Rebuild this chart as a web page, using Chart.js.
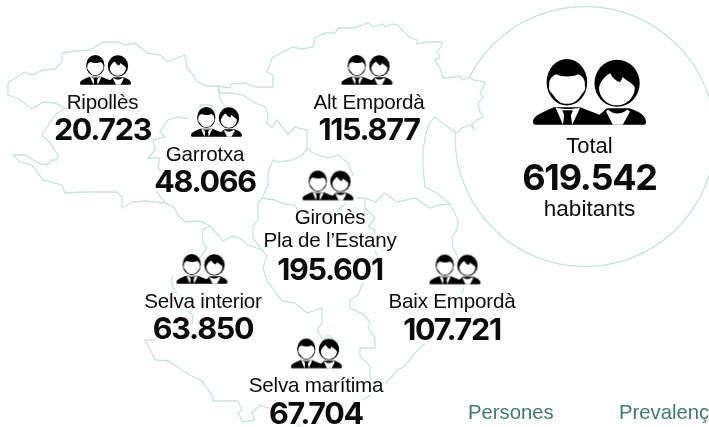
<!DOCTYPE html>
<html>

<head>
    <title>Habitants per comarca</title>
    <meta charset="utf-8" />
    <style>
        html, body { margin: 0; padding: 0; background: #fff; overflow: hidden; }
        canvas { display: block; }
    </style>
</head>

<body>
    <canvas id="myChart" width="709" height="427"></canvas>

    <script src="https://cdn.jsdelivr.net/npm/chart.js"></script>
    <script type="text/javascript">
        // values
        const comarques = ['Ripollès', 'Garrotxa', 'Alt Empordà', 'Gironès\nPla de l’Estany', 'Selva interior', 'Baix Empordà', 'Selva marítima'];
        const habitants = [20723, 48066, 115877, 195601, 63850, 107721, 67704];
        const totalHabitants = 619542;
        const tabs = ['Persones', 'Prevalenç'];

        // where each comarca sits on the map (page scale, y going down)
        const iconX = [105.5, 216.5, 367, 328, 202, 455, 316.5];
        const iconY = [70, 122, 70, 185.5, 269, 269.5, 353.5];
        const textX = [102.5, 205, 369, 330, 203, 452, 316];
        const totalPoint = [589.5, 92];
        const circlePoint = [585, 136.5];

        // map borders
        const northCoast = [[8,83],[25,72],[32,75],[43,70],[55,69],[62,62],[62,53],[75,51],[90,50],[103,42],[118,42],[125,45],[135,43],[147,53],[160,55],[168,62],[175,59],[185,55],[187,68],[193,75],[197,82],[207,86],[218,86],[230,88],[231,84],[245,83],[255,87],[273,87],[273,75],[267,72],[272,58],[277,55],[293,47],[302,49],[313,47],[315,38],[325,33],[335,33],[338,28],[353,28],[368,23],[373,27],[383,24],[385,27],[392,24],[398,25],[410,38],[417,40],[417,44],[427,42],[442,42],[441,47],[437,52],[440,57],[435,60],[440,68],[443,78],[455,77],[460,76],[462,80],[470,77],[473,80],[485,82],[483,88],[480,93],[483,98],[478,103],[480,112],[483,117],[477,120],[472,124],[474,129],[470,125],[462,128],[458,132],[455,132],[445,125],[435,117],[430,122],[426,133],[423,150],[423,167],[425,187],[437,193],[443,198],[450,204],[458,220],[457,230],[452,237],[453,247],[457,255],[465,285],[458,303],[448,326],[422,346],[415,353],[405,366],[398,370],[383,386],[363,400],[350,410],[335,415],[313,422],[297,426]];
        const capeMask = [[443,78],[455,77],[460,76],[462,80],[470,77],[473,80],[485,82],[483,88],[480,93],[483,98],[478,103],[480,112],[483,117],[477,120],[472,124],[474,129],[470,125],[462,128],[458,132],[455,132],[443,78]];
        const westEdge = [[8,83],[8,95],[17,98],[32,109],[43,102],[55,103],[65,108],[55,115],[42,135],[50,143],[58,155],[57,160],[52,160],[47,165],[38,163],[25,155],[13,155],[20,162],[32,165],[43,180],[62,185],[65,193],[85,192],[117,192],[122,197],[122,208],[133,202],[145,201],[165,203],[175,208],[177,214],[185,222],[200,221],[210,226],[223,241],[232,236],[240,238],[248,245],[262,250],[267,256],[263,268],[267,281],[282,301],[295,303],[307,313],[322,308],[322,323],[317,330],[323,340],[328,335],[338,342],[335,355],[342,368]];
        const selvaEdge = [[210,226],[202,230],[203,243],[207,248],[202,255],[190,268],[177,275],[172,276],[172,285],[185,310],[193,315],[192,325],[168,339],[145,340],[153,355],[155,360],[168,361],[190,375],[202,381],[212,395],[213,401],[238,401],[242,410],[238,413],[243,422],[255,420],[252,413],[260,405],[267,408],[272,405],[280,400]];
        const garrotxaNorth = [[218,86],[220,93],[230,93],[243,95],[255,103],[265,107],[268,115],[267,123],[272,128],[277,120],[288,135],[295,127],[307,130],[307,148],[313,153],[328,158],[338,155],[348,163],[353,175],[350,182],[355,190],[353,198],[365,198],[375,202],[385,193],[397,202],[415,198],[430,208],[440,205],[450,204]];
        const garrotxaStub = [[218,86],[220,98],[225,107]];
        const garrotxaWest = [[212,112],[212,105],[200,105],[200,117],[185,118],[178,117],[168,120],[160,132],[165,137],[153,140],[155,150],[148,158],[160,158],[158,168],[162,173],[157,192],[165,203]];
        const gironesWest = [[308,148],[302,155],[292,160],[278,162],[273,160],[268,172],[268,185],[262,198],[258,203],[258,220],[253,226],[253,238],[262,250]];
        const estanyEdge = [[262,198],[275,200],[284,204],[295,205],[300,215],[312,226],[322,222],[335,212],[353,198]];
        const baixWest = [[365,198],[365,208],[375,218],[368,227],[375,230],[373,247],[377,255],[372,272],[362,285],[358,295],[350,300],[350,308],[363,314],[370,322],[368,328],[375,338],[375,348],[360,348],[360,356],[370,366],[370,378],[383,386]];

        const lineColor = '#c6e6db';
        const textColor = '#0c0c0c';
        const tabColor = '#41796c';

        function toPoints(list) {
            return list.map((p) => ({ x: p[0], y: p[1] }));
        }

        function dotted(value) {
            return String(value).replace(/\B(?=(\d{3})+$)/g, '.');
        }

        // the two people glyph, drawn in a 340x198 box then scaled
        function peopleParts(ctx) {
            // man
            ctx.beginPath();
            ctx.ellipse(102, 70, 61, 70, 0, 0, Math.PI * 2);
            ctx.fill();
            ctx.beginPath();
            ctx.moveTo(0, 188);
            ctx.bezierCurveTo(0, 170, 30, 160, 62, 145);
            ctx.lineTo(142, 145);
            ctx.lineTo(200, 168);
            ctx.lineTo(222, 148);
            ctx.lineTo(290, 148);
            ctx.bezierCurveTo(320, 158, 340, 170, 340, 190);
            ctx.quadraticCurveTo(340, 198, 330, 198);
            ctx.lineTo(8, 198);
            ctx.quadraticCurveTo(0, 198, 0, 188);
            ctx.fill();
            // woman
            ctx.beginPath();
            ctx.ellipse(253, 73, 68, 71, 0, 0, Math.PI * 2);
            ctx.fill();
        }

        function drawPeople(canvas, scale, pad) {
            const ctx = canvas.getContext('2d');
            ctx.save();
            ctx.translate(pad, pad);
            ctx.scale(scale, scale);

            // white edge so the map lines stop short of the glyph
            ctx.fillStyle = '#fff';
            ctx.strokeStyle = '#fff';
            ctx.lineWidth = pad * 1.6 / scale;
            peopleParts(ctx);
            ctx.beginPath();
            ctx.rect(0, 60, 340, 138);
            ctx.stroke();
            ctx.fill();

            ctx.fillStyle = '#000';
            peopleParts(ctx);

            // man's face
            ctx.fillStyle = '#fff';
            ctx.beginPath();
            ctx.moveTo(49, 80);
            ctx.bezierCurveTo(47, 62, 56, 52, 70, 46);
            ctx.bezierCurveTo(90, 56, 120, 54, 136, 46);
            ctx.bezierCurveTo(150, 52, 158, 64, 156, 80);
            ctx.bezierCurveTo(161, 95, 149, 101, 144, 110);
            ctx.bezierCurveTo(132, 130, 116, 135, 102, 135);
            ctx.bezierCurveTo(88, 135, 74, 130, 62, 110);
            ctx.bezierCurveTo(56, 101, 44, 95, 49, 80);
            ctx.fill();

            // shirt and tie
            ctx.beginPath();
            ctx.moveTo(68, 146);
            ctx.lineTo(90, 198);
            ctx.lineTo(118, 198);
            ctx.lineTo(142, 146);
            ctx.bezierCurveTo(118, 152, 90, 152, 68, 146);
            ctx.fill();
            ctx.fillStyle = '#000';
            ctx.beginPath();
            ctx.moveTo(88, 154);
            ctx.lineTo(120, 154);
            ctx.lineTo(114, 170);
            ctx.lineTo(118, 198);
            ctx.lineTo(90, 198);
            ctx.lineTo(94, 170);
            ctx.closePath();
            ctx.fill();

            // woman's face with fringe
            ctx.fillStyle = '#fff';
            ctx.beginPath();
            ctx.moveTo(199, 84);
            ctx.bezierCurveTo(204, 66, 218, 50, 232, 43);
            ctx.bezierCurveTo(238, 56, 248, 66, 262, 70);
            ctx.bezierCurveTo(266, 62, 268, 58, 270, 54);
            ctx.bezierCurveTo(282, 66, 296, 70, 306, 84);
            ctx.bezierCurveTo(308, 112, 284, 139, 252, 139);
            ctx.bezierCurveTo(220, 139, 197, 112, 199, 84);
            ctx.fill();

            // collar
            ctx.beginPath();
            ctx.moveTo(226, 153);
            ctx.bezierCurveTo(240, 168, 268, 168, 284, 152);
            ctx.lineTo(292, 158);
            ctx.lineTo(270, 198);
            ctx.lineTo(240, 198);
            ctx.lineTo(220, 158);
            ctx.closePath();
            ctx.fill();
            ctx.restore();
        }

        function peopleGlyph(width) {
            const pad = 4;
            const scale = width / 340;
            const canvas = document.createElement('canvas');
            canvas.width = Math.ceil(width + pad * 2);
            canvas.height = Math.ceil(198 * scale + pad * 2);
            drawPeople(canvas, scale, pad);
            return canvas;
        }

        function mapLine(list) {
            return {
                data: toPoints(list),
                showLine: true,
                borderColor: lineColor,
                borderWidth: 1.3,
                pointRadius: 0,
                tension: 0,
                fill: false
            };
        }

        // all the wording goes on here, white halo first so lines stop before the letters
        const labelPlugin = {
            id: 'labelPlugin',
            afterDatasetsDraw(chart) {
                const { ctx, scales } = chart;
                const items = [];
                comarques.forEach((name, i) => {
                    const x = scales.x.getPixelForValue(textX[i]);
                    const y = scales.y.getPixelForValue(iconY[i]);
                    const lines = name.split('\n');
                    lines.forEach((line, n) => {
                        items.push({ text: line, x: x, y: y + 38.5 + n * 23, font: '20.6px "Liberation Sans"', spacing: '-0.2px' });
                    });
                    items.push({ text: dotted(habitants[i]), x: x, y: y + 70 + (lines.length - 1) * 24.5, font: '700 30.5px Inter', spacing: '-1.3px' });
                });
                const tx = scales.x.getPixelForValue(totalPoint[0]);
                items.push({ text: 'Total', x: tx, y: scales.y.getPixelForValue(153), font: '22px "Liberation Sans"', spacing: '0px' });
                items.push({ text: dotted(totalHabitants), x: tx, y: scales.y.getPixelForValue(190), font: '700 36px Inter', spacing: '-1.2px' });
                items.push({ text: 'habitants', x: tx, y: scales.y.getPixelForValue(216), font: '22.5px "Liberation Sans"', spacing: '0px' });

                ctx.save();
                ctx.textAlign = 'center';
                ctx.textBaseline = 'alphabetic';
                ctx.lineJoin = 'round';
                ctx.strokeStyle = '#fff';
                ctx.lineWidth = 6;
                items.forEach((t) => {
                    ctx.font = t.font;
                    ctx.letterSpacing = t.spacing;
                    ctx.strokeText(t.text, t.x, t.y);
                });
                ctx.fillStyle = textColor;
                items.forEach((t) => {
                    ctx.font = t.font;
                    ctx.letterSpacing = t.spacing;
                    ctx.fillText(t.text, t.x, t.y);
                });

                ctx.textAlign = 'left';
                ctx.fillStyle = tabColor;
                ctx.font = '20.3px "Liberation Sans"';
                ctx.letterSpacing = '0px';
                ctx.fillText(tabs[0], scales.x.getPixelForValue(468), scales.y.getPixelForValue(419));
                ctx.fillText(tabs[1], scales.x.getPixelForValue(619), scales.y.getPixelForValue(419));
                ctx.restore();
            }
        };

        const smallGlyph = peopleGlyph(51);
        const bigGlyph = peopleGlyph(113);

        // first dataset ends up on top
        new Chart(document.getElementById('myChart'), {
            type: 'scatter',
            data: {
                datasets: [
                    {
                        data: iconX.map((x, i) => ({ x: x, y: iconY[i] })),
                        pointStyle: smallGlyph
                    },
                    {
                        data: [{ x: totalPoint[0], y: totalPoint[1] }],
                        pointStyle: bigGlyph
                    },
                    mapLine(northCoast),
                    mapLine(westEdge),
                    mapLine(selvaEdge),
                    mapLine(garrotxaNorth),
                    mapLine(garrotxaStub),
                    mapLine(garrotxaWest),
                    mapLine(gironesWest),
                    mapLine(estanyEdge),
                    mapLine(baixWest),
                    {
                        // hides the circle where the cape runs over it
                        data: toPoints(capeMask),
                        showLine: true,
                        borderColor: '#fff',
                        borderWidth: 0,
                        backgroundColor: '#fff',
                        pointRadius: 0,
                        fill: 'shape'
                    },
                    {
                        data: [{ x: circlePoint[0], y: circlePoint[1] }],
                        pointRadius: 130,
                        pointBorderColor: lineColor,
                        pointBorderWidth: 1.3,
                        pointBackgroundColor: 'rgba(0,0,0,0)'
                    }
                ]
            },
            options: {
                responsive: false,
                animation: false,
                layout: { padding: 0, autoPadding: false },
                plugins: {
                    legend: { display: false },
                    tooltip: { enabled: false }
                },
                scales: {
                    x: { type: 'linear', min: 0, max: 709, display: false },
                    y: { type: 'linear', min: 0, max: 427, reverse: true, display: false }
                }
            },
            plugins: [labelPlugin]
        });
    </script>
</body>

</html>
